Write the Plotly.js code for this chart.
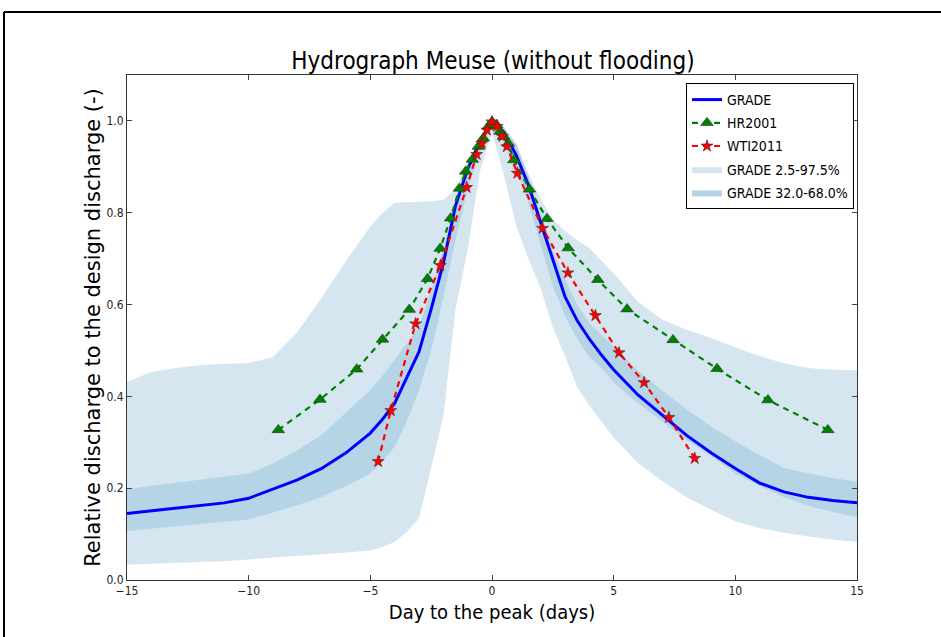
<!DOCTYPE html>
<html>
<head>
<meta charset="utf-8">
<script src="https://cdn.plot.ly/plotly-3.0.1.min.js"></script>
<style>
  html, body { margin: 0; padding: 0; background: #fff; }
  #chart { width: 941px; height: 637px; }
</style>
</head>
<body>
<div id="chart"></div>
<script>
// ---- Data ----
const days = [-15,-14,-13,-12,-11,-10,-9,-8,-7,-6,-5,-4.5,-4,-3.5,-3,-2.5,-2,-1.5,-1,-0.5,0,0.5,1,1.5,2,2.5,3,3.5,4,4.5,5,6,7,8,9,10,11,12,13,14,15];

const gradeMedian = [0.145,0.151,0.157,0.162,0.168,0.178,0.198,0.218,0.243,0.277,0.320,0.350,0.385,0.440,0.497,0.590,0.690,0.815,0.895,0.955,1.000,0.975,0.925,0.860,0.780,0.700,0.617,0.565,0.525,0.490,0.458,0.403,0.360,0.315,0.277,0.243,0.211,0.192,0.180,0.173,0.168];

const grade025 = [0.033,0.035,0.037,0.039,0.041,0.044,0.048,0.052,0.056,0.060,0.064,0.072,0.083,0.105,0.134,0.245,0.356,0.590,0.720,0.890,0.975,0.880,0.770,0.700,0.635,0.550,0.488,0.420,0.380,0.345,0.310,0.255,0.215,0.180,0.153,0.128,0.113,0.103,0.095,0.088,0.083];

const grade975 = [0.432,0.453,0.462,0.468,0.471,0.472,0.486,0.540,0.615,0.695,0.770,0.800,0.822,0.823,0.824,0.825,0.828,0.850,0.910,0.965,1.005,0.985,0.945,0.885,0.830,0.785,0.760,0.740,0.723,0.695,0.668,0.606,0.567,0.545,0.527,0.507,0.488,0.472,0.462,0.458,0.457];

const grade32 = [0.107,0.112,0.117,0.122,0.127,0.132,0.147,0.163,0.181,0.205,0.232,0.258,0.290,0.345,0.414,0.500,0.615,0.740,0.850,0.930,0.990,0.950,0.895,0.820,0.730,0.640,0.575,0.525,0.485,0.462,0.430,0.385,0.345,0.305,0.270,0.232,0.205,0.180,0.162,0.148,0.137];

const grade68 = [0.198,0.205,0.212,0.219,0.226,0.232,0.254,0.283,0.316,0.365,0.414,0.445,0.479,0.515,0.552,0.630,0.720,0.830,0.905,0.962,1.000,0.985,0.950,0.880,0.800,0.720,0.655,0.600,0.560,0.535,0.508,0.456,0.412,0.372,0.335,0.302,0.272,0.244,0.232,0.222,0.214];

const hrDays = [-8.78,-7.07,-5.56,-4.50,-3.40,-2.65,-2.13,-1.70,-1.34,-1.08,-0.81,-0.56,-0.36,-0.15,0.0,0.19,0.33,0.47,0.67,0.90,1.54,2.26,3.13,4.35,5.55,7.44,9.25,11.34,13.80];
const hrValues = [0.327,0.393,0.459,0.524,0.589,0.656,0.722,0.788,0.853,0.890,0.916,0.944,0.962,0.988,0.998,0.991,0.977,0.966,0.951,0.915,0.851,0.787,0.723,0.654,0.590,0.523,0.460,0.392,0.327];

const wtiDays = [-4.68,-4.16,-3.14,-2.12,-1.04,-0.63,-0.42,-0.21,0.0,0.21,0.42,0.61,1.04,2.08,3.12,4.25,5.22,6.25,7.27,8.33];
const wtiValues = [0.258,0.369,0.558,0.685,0.855,0.927,0.951,0.980,0.998,0.988,0.966,0.944,0.886,0.766,0.669,0.576,0.495,0.430,0.354,0.265];

const xTicks = [-15,-10,-5,0,5,10,15];
const yTicks = [0.0,0.2,0.4,0.6,0.8,1.0];

// ---- Helpers ----
function bandX(x) { return x.concat(x.slice().reverse()); }
function bandY(lo, hi) { return hi.concat(lo.slice().reverse()); }

const condensed = 'DejaVu Sans Condensed, DejaVu Sans, sans-serif';

const traces = [
  {
    x: bandX(days), y: bandY(grade025, grade975),
    type: 'scatter', mode: 'lines', fill: 'toself',
    fillcolor: '#d6e6f1', line: {width: 0, color: '#d6e6f1'},
    name: 'GRADE 2.5-97.5%', legendrank: 4, legendgroup: 'g4', hoverinfo: 'skip'
  },
  {
    x: bandX(days), y: bandY(grade32, grade68),
    type: 'scatter', mode: 'lines', fill: 'toself',
    fillcolor: '#b5d4e6', line: {width: 0, color: '#b5d4e6'},
    name: 'GRADE 32.0-68.0%', legendrank: 5, legendgroup: 'g5', hoverinfo: 'skip'
  },
  {
    x: days, y: gradeMedian, type: 'scatter', mode: 'lines',
    line: {color: '#0000ff', width: 3},
    name: 'GRADE', legendrank: 1, legendgroup: 'g1'
  },
  {
    x: hrDays, y: hrValues, type: 'scatter', mode: 'lines+markers',
    line: {color: '#008000', width: 2.2, dash: '6px,5px'},
    marker: {symbol: 'triangle-up', size: 11, color: '#008000', line: {color: '#1a3a1a', width: 0.6}},
    name: 'HR2001', legendrank: 2, legendgroup: 'g2'
  },
  {
    x: wtiDays, y: wtiValues, type: 'scatter', mode: 'lines+markers',
    line: {color: '#ff0000', width: 2.2, dash: '6px,5px'},
    marker: {symbol: 'star', size: 9, color: '#ff0000', line: {color: '#552222', width: 0.6}},
    name: 'WTI2011', legendrank: 3, legendgroup: 'g3'
  }
];

const px = v => (v - 127) / 730;          // pixel -> paper x
const py = v => (580 - v) / 505;          // pixel -> paper y

const layout = {
  width: 941, height: 637,
  margin: {l: 127, r: 84, t: 75, b: 57},
  paper_bgcolor: '#ffffff', plot_bgcolor: '#ffffff',
  showlegend: true,
  title: {
    text: 'Hydrograph Meuse (without flooding)',
    font: {family: condensed, size: 24, color: '#000'},
    x: 493 / 941, xanchor: 'center', xref: 'container',
    y: 1 - 61 / 637, yanchor: 'middle', yref: 'container'
  },
  xaxis: {
    range: [-15, 15], tickvals: xTicks, ticktext: xTicks.map(v => v < 0 ? '\u2212' + Math.abs(v) : String(v)),
    ticks: 'inside', ticklen: 5, tickwidth: 1, tickcolor: '#444',
    showline: true, linecolor: '#333', linewidth: 1, mirror: 'ticks',
    showgrid: false, zeroline: false,
    tickfont: {family: condensed, size: 12, color: '#222'},
    title: {text: 'Day to the peak (days)', font: {family: condensed, size: 20, color: '#000'}, standoff: 7},
    automargin: false
  },
  yaxis: {
    range: [0, 1.1], tickvals: yTicks, ticktext: yTicks.map(v => v.toFixed(1)),
    ticks: 'inside', ticklen: 5, tickwidth: 1, tickcolor: '#444',
    showline: true, linecolor: '#333', linewidth: 1, mirror: 'ticks',
    showgrid: false, zeroline: false,
    tickfont: {family: condensed, size: 12, color: '#222'},
    title: {text: 'Relative discharge to the design discharge (-)', font: {family: 'DejaVu Sans, sans-serif', size: 21, color: '#000'}, standoff: 0},
    automargin: false
  },
  legend: {
    x: px(686), y: py(83), xanchor: 'left', yanchor: 'top',
    bgcolor: '#ffffff', bordercolor: '#000', borderwidth: 1,
    font: {family: condensed, size: 14, color: '#000'},
    traceorder: 'grouped', tracegroupgap: 2,
    itemwidth: 30
  },
  shapes: [
    {type: 'line', xref: 'paper', yref: 'paper', x0: px(4), x1: px(941), y0: py(12), y1: py(12), line: {color: '#000', width: 2}},
    {type: 'line', xref: 'paper', yref: 'paper', x0: px(4), x1: px(4), y0: py(12), y1: py(637), line: {color: '#000', width: 2}}
  ]
};

Plotly.newPlot('chart', traces, layout, {displayModeBar: false, staticPlot: true});
</script>
</body>
</html>
